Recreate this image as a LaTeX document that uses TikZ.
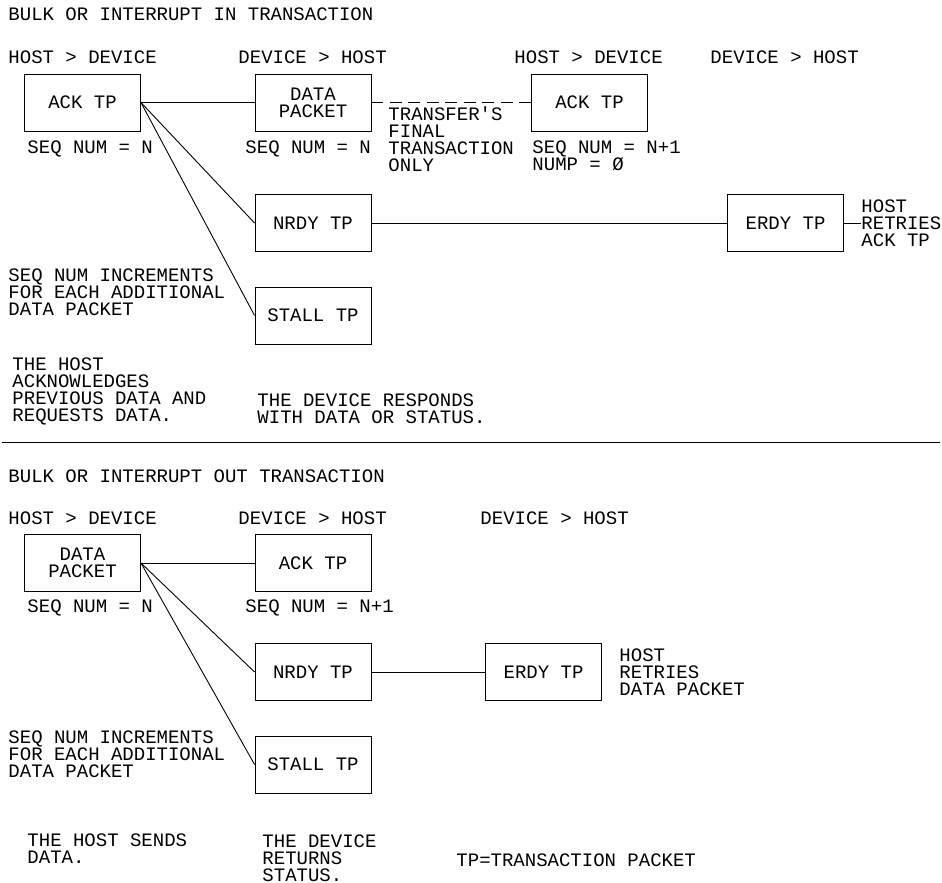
\documentclass[tikz,border=0pt]{standalone}
\usepackage{fontspec}
\usepackage{tikz}
\newfontfamily\cadfont{Liberation Mono}

\begin{document}
\begin{tikzpicture}[x=1pt,y=-1pt,line width=0.9pt,
    every node/.style={font=\cadfont\fontsize{19}{17}\selectfont},
    tp/.style={draw,minimum width=116pt,minimum height=57pt,align=center,inner sep=0pt},
    lbl/.style={anchor=west,align=left,inner sep=0pt}]
    \useasboundingbox (0,0) rectangle (942,883);

    \node[lbl] (titleIn) at (8,14) {BULK OR INTERRUPT IN TRANSACTION};
    \node[lbl] (hostA) at (8,57) {HOST > DEVICE};
    \node[lbl] (devA) at (238,57) {DEVICE > HOST};
    \node[lbl] (hostB) at (514,57) {HOST > DEVICE};
    \node[lbl] (devB) at (710,57) {DEVICE > HOST};

    \node[tp] (ackIn) at (82.5,102.5) {ACK TP};
    \node[tp] (dataIn) at (313,102.5) {DATA\\PACKET};
    \node[tp] (ackLast) at (589.5,102.5) {ACK TP};
    \node[tp] (nrdyIn) at (313,223) {NRDY TP};
    \node[tp] (stallIn) at (313,315.5) {STALL TP};
    \node[tp] (erdyIn) at (785.5,223) {ERDY TP};

    \node[lbl] (seqAck) at (27,149) {SEQ NUM = N};
    \node[lbl] (seqData) at (245,149) {SEQ NUM = N};
    \node[lbl] (finalOnly) at (388,139) {TRANSFER'S\\FINAL\\TRANSACTION\\ONLY};
    \node[lbl] (seqLast) at (532,156) {SEQ NUM = N+1\\NUMP = Ø};
    \node[lbl] (retryAck) at (861,223) {HOST\\RETRIES\\ACK TP};
    \node[lbl] (incIn) at (8,292) {SEQ NUM INCREMENTS\\FOR EACH ADDITIONAL\\DATA PACKET};
    \node[lbl] (hostSays) at (12,391) {THE HOST\\ACKNOWLEDGES\\PREVIOUS DATA AND\\REQUESTS DATA.};
    \node[lbl] (devSays) at (257,408.5) {THE DEVICE RESPONDS\\WITH DATA OR STATUS.};

    \draw (ackIn.east) -- (dataIn.west);
    \draw (ackIn.east) -- (nrdyIn.west);
    \draw (ackIn.east) -- (stallIn.west);
    \draw[dash pattern=on 12pt off 6.5pt] (dataIn.east) -- (ackLast.west);
    \draw (nrdyIn.east) -- (erdyIn.west);
    \draw (erdyIn.east) -- (retryAck.west);

    \coordinate (sepL) at (2,442);
    \coordinate (sepR) at (940,442);
    \draw (sepL) -- (sepR);

    \node[lbl] (titleOut) at (8,476) {BULK OR INTERRUPT OUT TRANSACTION};
    \node[lbl] (hostC) at (8,518) {HOST > DEVICE};
    \node[lbl] (devC) at (238,518) {DEVICE > HOST};
    \node[lbl] (devD) at (480,518) {DEVICE > HOST};

    \node[tp] (dataOut) at (82.5,563) {DATA\\PACKET};
    \node[tp] (ackOut) at (313,563) {ACK TP};
    \node[tp] (nrdyOut) at (313,672) {NRDY TP};
    \node[tp] (erdyOut) at (543.5,672) {ERDY TP};
    \node[tp] (stallOut) at (313,764.5) {STALL TP};

    \node[lbl] (seqOut) at (27,608) {SEQ NUM = N};
    \node[lbl] (seqAckOut) at (245,608) {SEQ NUM = N+1};
    \node[lbl] (retryData) at (619,672) {HOST\\RETRIES\\DATA PACKET};
    \node[lbl] (incOut) at (8,754.5) {SEQ NUM INCREMENTS\\FOR EACH ADDITIONAL\\DATA PACKET};
    \node[lbl] (hostSends) at (27,848.5) {THE HOST SENDS\\DATA.};
    \node[lbl] (devReturns) at (262,858) {THE DEVICE\\RETURNS\\STATUS.};
    \node[lbl] (tpKey) at (456,860) {TP=TRANSACTION PACKET};

    \draw (dataOut.east) -- (ackOut.west);
    \draw (dataOut.east) -- (nrdyOut.west);
    \draw (dataOut.east) -- (stallOut.west);
    \draw (nrdyOut.east) -- (erdyOut.west);
\end{tikzpicture}
\end{document}
